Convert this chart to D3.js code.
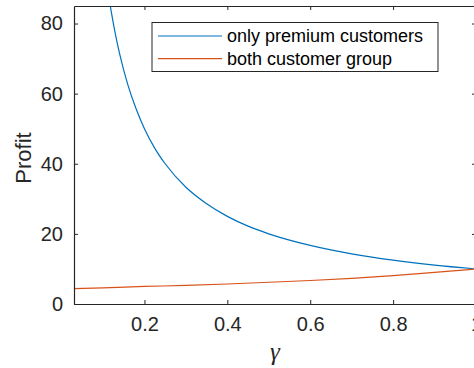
<!doctype html>
<html>
  <head>
    <script src="https://cdnjs.cloudflare.com/ajax/libs/d3/7.8.5/d3.min.js"></script>
    <style>
      body { margin: 0; background: #fff; }
      svg { display: block; }
      .tick text { font-family: "Liberation Sans", Arial, sans-serif; font-size: 20px; fill: #262626; }
      .domain, .tick line { stroke: #262626; }
    </style>
  </head>
  <body>
    <svg id="chart" width="474" height="368"></svg>
    <script>
      // values
      var gammaPremium = [0.1, 0.11, 0.12, 0.13, 0.14, 0.16, 0.18, 0.2, 0.225, 0.25, 0.3, 0.35, 0.4, 0.45, 0.5, 0.6, 0.7, 0.8, 0.9, 1.0];
      var profitPremium = [100, 90.9, 83.3, 76.9, 71.4, 62.5, 55.6, 50, 44.4, 40, 33.3, 28.6, 25, 22.2, 20, 16.7, 14.3, 12.5, 11.1, 10];
      var gammaBoth = [0.03, 0.1, 0.2, 0.3, 0.4, 0.5, 0.6, 0.7, 0.8, 0.9, 1.0];
      var profitBoth = [4.4, 4.6, 5.0, 5.3, 5.7, 6.2, 6.7, 7.3, 8.1, 9.0, 10.0];
      var xTicks = [0.2, 0.4, 0.6, 0.8, 1];
      var yTicks = [0, 20, 40, 60, 80];
      var seriesNames = ["only premium customers", "both customer group"];
      var colors = ["#0072BD", "#D95319"];

      var svg = d3.select("#chart");
      var plotLeft = 74, plotRight = 476, plotTop = 6, plotBottom = 304;

      var x = d3.scaleLinear().domain([0.03, 1]).range([plotLeft, plotRight]);
      var y = d3.scaleLinear().domain([0, 85]).range([plotBottom, plotTop]);

      svg.append("defs").append("clipPath").attr("id", "clip")
        .append("rect").attr("x", plotLeft).attr("y", plotTop)
        .attr("width", plotRight - plotLeft).attr("height", plotBottom - plotTop);

      var series = [
        gammaPremium.map((g, i) => [g, profitPremium[i]]),
        gammaBoth.map((g, i) => [g, profitBoth[i]])
      ];

      var line = d3.line()
        .x(d => x(d[0]))
        .y(d => y(d[1]))
        .curve(d3.curveMonotoneX);

      svg.append("g").attr("clip-path", "url(#clip)")
        .selectAll("path")
        .data(series)
        .enter()
        .append("path")
          .attr("d", line)
          .attr("fill", "none")
          .attr("stroke", (d, i) => colors[i])
          .attr("stroke-width", 1.2);

      // axes, ticks pointing inward
      svg.append("g").attr("transform", "translate(0," + plotBottom + ")")
        .call(d3.axisBottom(x).tickValues(xTicks).tickFormat(d => String(d))
          .tickSize(-4).tickSizeOuter(0).tickPadding(13));
      svg.append("g").attr("transform", "translate(0," + plotTop + ")")
        .call(d3.axisTop(x).tickValues(xTicks).tickFormat("")
          .tickSize(-4).tickSizeOuter(0));
      svg.append("g").attr("transform", "translate(" + plotLeft + ",0)")
        .call(d3.axisLeft(y).tickValues(yTicks)
          .tickSize(-4).tickSizeOuter(0).tickPadding(11));
      svg.append("g").attr("transform", "translate(" + plotRight + ",0)")
        .call(d3.axisRight(y).tickValues(yTicks).tickFormat("")
          .tickSize(-4).tickSizeOuter(0));

      svg.selectAll(".domain").attr("stroke-width", 1.2);

      svg.append("text")
        .attr("transform", "translate(30.5,158) rotate(-90)")
        .attr("text-anchor", "middle")
        .style("font-family", "Liberation Sans, Arial, sans-serif")
        .style("font-size", "22px")
        .style("fill", "#262626")
        .text("Profit");

      svg.append("text")
        .attr("x", (plotLeft + plotRight) / 2)
        .attr("y", 360)
        .attr("text-anchor", "middle")
        .style("font-family", "Liberation Serif, serif")
        .style("font-style", "italic")
        .style("font-size", "25px")
        .style("fill", "#262626")
        .text("γ");

      // legend
      var legend = svg.append("g").attr("transform", "translate(152,22.5)");
      legend.append("rect")
        .attr("width", 286).attr("height", 49)
        .attr("fill", "#fff").attr("stroke", "#262626").attr("stroke-width", 1);
      var items = legend.selectAll(".item")
        .data(seriesNames)
        .enter()
        .append("g")
          .attr("transform", (d, i) => "translate(0," + (13.5 + i * 22.6) + ")");
      items.append("line")
        .attr("x1", 6).attr("x2", 70)
        .attr("stroke", (d, i) => colors[i]).attr("stroke-width", 1.2);
      items.append("text")
        .attr("x", 75).attr("dy", "0.35em")
        .style("font-family", "Liberation Sans, Arial, sans-serif")
        .style("font-size", "18px")
        .style("fill", "#000")
        .text(d => d);
    </script>
  </body>
</html>
